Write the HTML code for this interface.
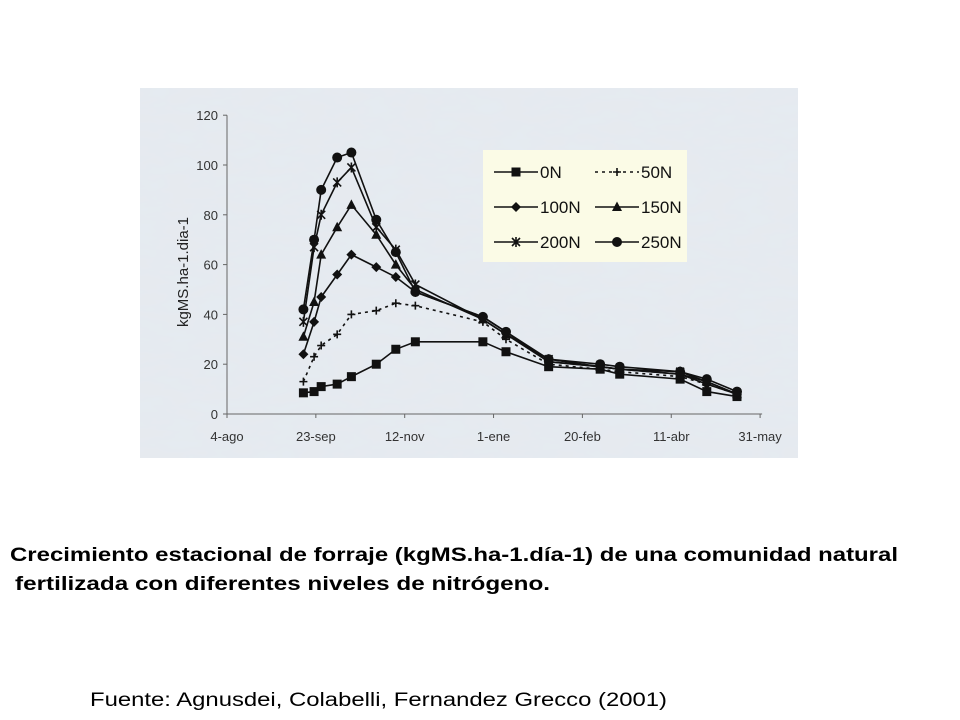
<!DOCTYPE html>
<html><head><meta charset="utf-8"><style>
html,body{margin:0;padding:0;background:#fff;}
svg{display:block;font-family:"Liberation Sans",Arial,sans-serif;}
</style></head><body>
<svg id="chart" width="960" height="720" viewBox="0 0 960 720">
<defs>
<filter id="tex" x="0" y="0" width="100%" height="100%">
<feTurbulence type="fractalNoise" baseFrequency="0.03 0.08" numOctaves="3" seed="4"/>
<feColorMatrix type="matrix" values="0 0 0 0 0.78  0 0 0 0 0.83  0 0 0 0 0.88  0 0 0 -1.6 1.2"/>
</filter>
</defs>
<rect x="140" y="88" width="658" height="370" fill="#e6eaef"/>
<rect x="140" y="88" width="658" height="370" filter="url(#tex)" opacity="1"/>
<g id="axes"></g>
<g id="series"></g>
<g id="legend">
<rect x="483" y="150" width="204" height="112" fill="#fbfbe6"/>
</g>
<text x="10" y="561" font-size="19" font-weight="bold" textLength="888" lengthAdjust="spacingAndGlyphs">Crecimiento estacional de forraje (kgMS.ha-1.día-1) de una comunidad natural</text>
<text x="15" y="590" font-size="19" font-weight="bold" textLength="535" lengthAdjust="spacingAndGlyphs">fertilizada con diferentes niveles de nitrógeno.</text>
<text x="90" y="706" font-size="19" textLength="577" lengthAdjust="spacingAndGlyphs">Fuente: Agnusdei, Colabelli, Fernandez Grecco (2001)</text>
</svg>
<script>
const days = [43,49,53,62,70,84,95,106,144,157,181,210,221,255,270,287];
const s0N   = [8.5,9,11,12,15,20,26,29,29,25,19,18,16,14,9,7];
const s50N  = [13,23,27.5,32,40,41.5,44.5,43.5,37,30,20,18,17,15,12,8];
const s100N = [24,37,47,56,64,59,55,49,39,33,21,19,18,16,12,8];
const s150N = [31,45,64,75,84,72,60,50,38,32,21,19,18,16,13,8];
const s200N = [37,67,80,93,99,75,66,52,38,32,22,19,18,17,13,8];
const s250N = [42,70,90,103,105,78,65,49,39,33,22,20,19,17,14,9];
const seriesNames = ["0N","50N","100N","150N","200N","250N"];
const yTicks = [0,20,40,60,80,100,120];
const xTickLabels = ["4-ago","23-sep","12-nov","1-ene","20-feb","11-abr","31-may"];
const xTickDays = [0,50,100,150,200,250,300];

const NS="http://www.w3.org/2000/svg";
const X0=227, PXD=1.777, Y0=414, PXU=2.49;
const xs=d=>X0+d*PXD, ys=v=>Y0-v*PXU;
function mk(t,a,p){const e=document.createElementNS(NS,t);for(const k in a)e.setAttribute(k,a[k]);p.appendChild(e);return e;}
const axes=document.getElementById('axes');
let l=mk('line',{x1:X0,y1:ys(120),x2:X0,y2:Y0,stroke:'#666','stroke-width':1},axes);


l=mk('line',{x1:X0,y1:Y0,x2:xs(300)+2,y2:Y0,stroke:'#666','stroke-width':1},axes);


yTicks.forEach(v=>{
  mk('line',{x1:X0-4,y1:ys(v),x2:X0,y2:ys(v),stroke:'#666'},axes);
  const t=mk('text',{x:X0-9,y:ys(v)+5,'font-size':13,'text-anchor':'end',fill:'#333'},axes);
  t.textContent=v;
  
  
});
xTickLabels.forEach((s,i)=>{
  const x=xs(xTickDays[i]);
  mk('line',{x1:x,y1:Y0,x2:x,y2:Y0+4,stroke:'#666'},axes);
  const t=mk('text',{x:x,y:Y0+27,'font-size':13,'text-anchor':'middle',fill:'#333'},axes);
  t.textContent=s;
  
  
});
const yt=mk('text',{x:0,y:0,'font-size':15,'text-anchor':'middle',fill:'#222',transform:'translate(188,272) rotate(-90)'},axes);
yt.textContent='kgMS.ha-1.dia-1';



function marker(kind,x,y,g){
  if(kind==='sq') mk('rect',{x:x-4.5,y:y-4.5,width:9,height:9,fill:'#111'},g);
  else if(kind==='plus'){mk('path',{d:`M${x-4} ${y}H${x+4}M${x} ${y-4}V${y+4}`,stroke:'#111','stroke-width':1.6},g);}
  else if(kind==='dia') mk('path',{d:`M${x} ${y-5}L${x+5} ${y}L${x} ${y+5}L${x-5} ${y}Z`,fill:'#111'},g);
  else if(kind==='tri') mk('path',{d:`M${x} ${y-5.5}L${x+5} ${y+4}L${x-5} ${y+4}Z`,fill:'#111'},g);
  else if(kind==='star') mk('path',{d:`M${x-4} ${y-4}L${x+4} ${y+4}M${x+4} ${y-4}L${x-4} ${y+4}M${x} ${y-5}V${y+5}`,stroke:'#111','stroke-width':1.6},g);
  else if(kind==='circ') mk('circle',{cx:x,cy:y,r:5,fill:'#111'},g);
}
const allSeries=[s0N,s50N,s100N,s150N,s200N,s250N];
const kinds=['sq','plus','dia','tri','star','circ'];
const sg=document.getElementById('series');
allSeries.forEach((vals,i)=>{
  const g=mk('g',{},sg);
  
  
  const pts=vals.map((v,j)=>xs(days[j]).toFixed(1)+','+ys(v).toFixed(1)).join(' ');
  const pl=mk('polyline',{points:pts,fill:'none',stroke:'#111','stroke-width':1.6,'stroke-dasharray':i===1?'3 4':'none'},g);
  
  
  vals.forEach((v,j)=>marker(kinds[i],xs(days[j]),ys(v),g));
});
const lg=document.getElementById('legend');
seriesNames.forEach((n,i)=>{
  const col=i%2, row=Math.floor(i/2);
  const x=494+col*101, y=172+row*35;
  const g=mk('g',{},lg);
  
  
  mk('line',{x1:x,y1:y,x2:x+44,y2:y,stroke:'#111','stroke-width':1.6,'stroke-dasharray':i===1?'3 4':'none'},g);
  marker(kinds[i],x+22,y,g);
  const t=mk('text',{x:x+46,y:y+6,'font-size':17,fill:'#111'},g);
  t.textContent=n;
});
</script>
</body></html>
